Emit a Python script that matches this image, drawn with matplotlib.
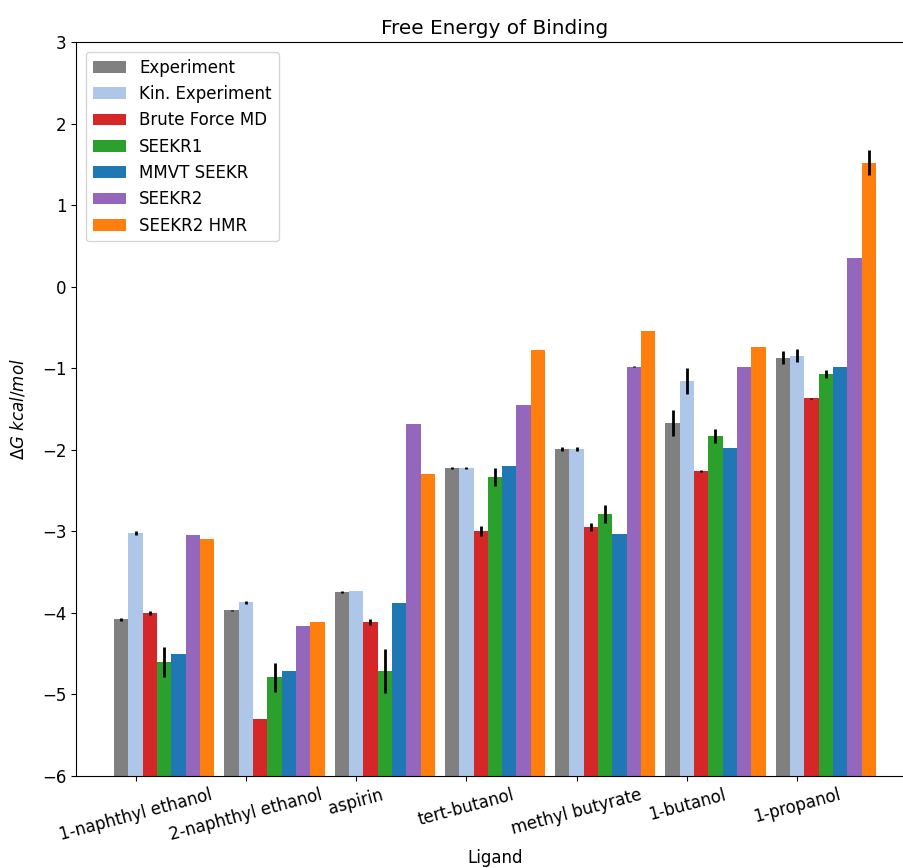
import numpy as np
import matplotlib
matplotlib.use("Agg")
import matplotlib.pyplot as plt

ligands = ["1-naphthyl ethanol", "2-naphthyl ethanol", "aspirin", "tert-butanol",
           "methyl butyrate", "1-butanol", "1-propanol"]

series_names = ["Experiment", "Kin. Experiment", "Brute Force MD", "SEEKR1",
                "MMVT SEEKR", "SEEKR2", "SEEKR2 HMR"]

experiment = [-4.08, -3.97, -3.745, -2.22, -1.99, -1.67, -0.87]
experiment_err = [0.02, 0.01, 0.01, 0.01, 0.02, 0.16, 0.08]

kin_experiment = [-3.02, -3.87, -3.73, -2.22, -1.99, -1.16, -0.845]
kin_experiment_err = [0.02, 0.02, np.nan, 0.01, 0.02, 0.16, 0.08]

brute_force = [-4.00, -5.30, -4.11, -3.00, -2.95, -2.26, -1.37]
brute_force_err = [0.02, np.nan, 0.04, 0.06, 0.05, 0.01, 0.01]

seekr1 = [-4.60, -4.79, -4.71, -2.33, -2.79, -1.83, -1.07]
seekr1_err = [0.18, 0.175, 0.27, 0.11, 0.11, 0.09, 0.045]

mmvt_seekr = [-4.50, -4.71, -3.88, -2.20, -3.03, -1.98, -0.99]
mmvt_seekr_err = [np.nan] * 7

seekr2 = [-3.04, -4.16, -1.69, -1.45, -0.98, -0.99, 0.35]
seekr2_err = [np.nan, np.nan, np.nan, np.nan, 0.01, np.nan, np.nan]

seekr2_hmr = [-3.09, -4.11, -2.30, -0.78, -0.54, -0.74, 1.52]
seekr2_hmr_err = [np.nan] * 6 + [0.15]

colors = ["#808080", "#aec7e8", "#d62728", "#2ca02c", "#1f77b4", "#9467bd", "#ff7f0e"]

values = [experiment, kin_experiment, brute_force, seekr1, mmvt_seekr, seekr2, seekr2_hmr]
errors = [experiment_err, kin_experiment_err, brute_force_err, seekr1_err,
          mmvt_seekr_err, seekr2_err, seekr2_hmr_err]

plt.rcParams["font.size"] = 12
fig = plt.figure(figsize=(9.04, 8.68), dpi=100)
ax = fig.add_axes([76 / 904, (868 - 776) / 868, (914 - 76) / 904, (776 - 42) / 868])

base = -6.0
width = 0.13
x = np.arange(len(ligands))
for k, (name, vals, errs, col) in enumerate(zip(series_names, values, errors, colors)):
    vals = np.asarray(vals, dtype=float)
    ax.bar(x + (k - 1) * width, vals - base, width, bottom=base, color=col,
           label=name, yerr=np.asarray(errs, dtype=float),
           error_kw=dict(ecolor="black", elinewidth=2, capsize=0))

ax.set_ylim(-6, 3)
ax.set_yticks(np.arange(-6, 4, 1))
ax.set_xticks(x)
ax.set_xticklabels(ligands, rotation=15, ha="center")
ax.set_title("Free Energy of Binding")
ax.set_ylabel(r"$\Delta G\ kcal/mol$", labelpad=10)
ax.set_xlabel("Ligand")
ax.spines["right"].set_visible(False)
ax.legend(loc="upper left", borderaxespad=0.6)

fig.savefig("out.png", dpi=100)
